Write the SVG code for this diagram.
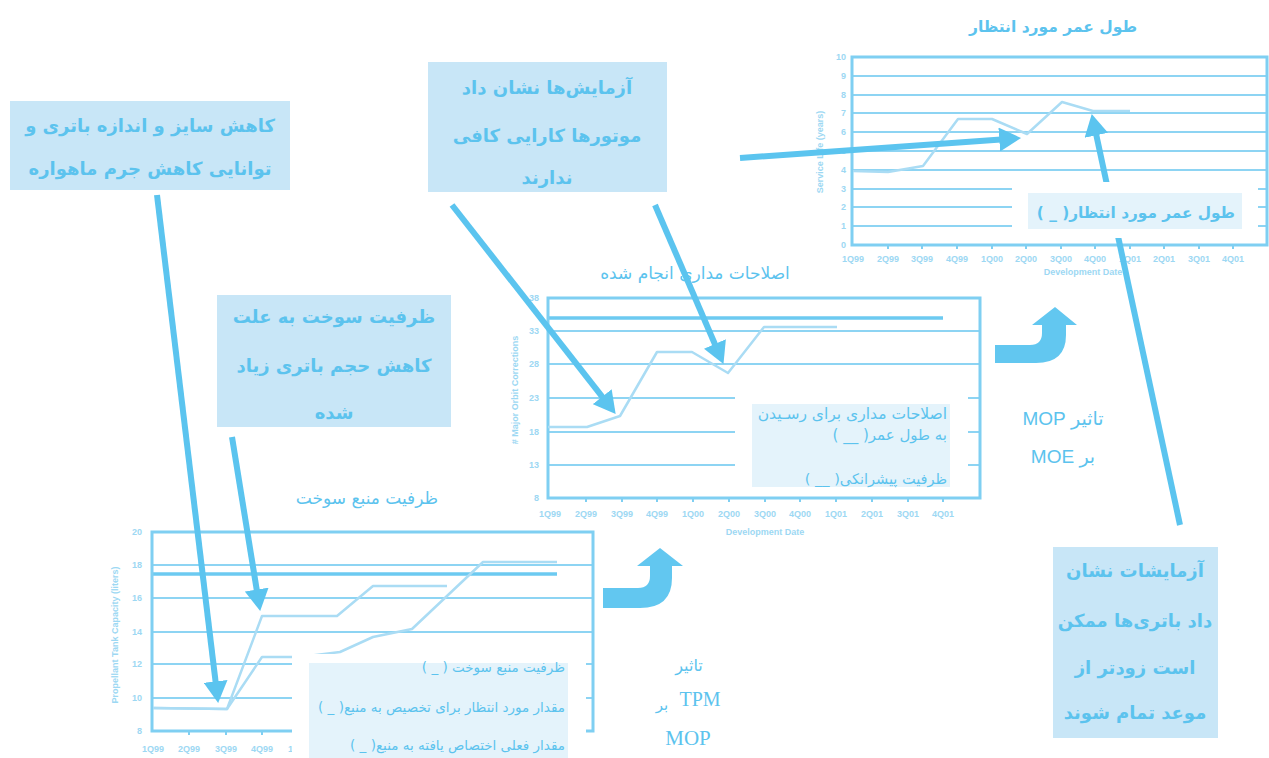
<svg xmlns="http://www.w3.org/2000/svg" width="1269" height="758" viewBox="0 0 1269 758">
<defs>
<style>
.frame{fill:none;stroke:#7fcff2;stroke-width:3}
.grid{stroke:#8dd4f3;stroke-width:2;fill:none}
.target{stroke:#6ccaf1;stroke-width:3.5;fill:none}
.data{stroke:#aadcf4;stroke-width:2.5;fill:none;stroke-linejoin:round}
.tick{stroke:#7fcff2;stroke-width:2}
.ax{font-family:"Liberation Sans",Arial,sans-serif;font-size:9px;font-weight:bold;fill:#9dd8f3}
.axt{font-family:"Liberation Sans",Arial,sans-serif;font-size:9px;font-weight:bold;fill:#9dd8f3;text-anchor:middle}
.cover{fill:#ffffff}
.lbox{fill:#e4f3fb}
.tbox{fill:#c8e6f7}
.tb{font-family:"DejaVu Sans","Noto Sans",sans-serif;font-size:18px;font-weight:bold;fill:#5cc3ee;text-anchor:middle}
.title{font-family:"DejaVu Sans","Noto Sans",sans-serif;fill:#5cc3ee;text-anchor:middle}
.lt{font-family:"DejaVu Sans","Noto Sans",sans-serif;fill:#5cc3ee}
.arr{stroke:#5bc4ef;stroke-width:6;fill:none;marker-end:url(#head)}
.block{fill:#62c7f0}
.serif{font-family:"Liberation Serif","DejaVu Sans",serif;fill:#5cc3ee;text-anchor:middle}
.sans{font-family:"Liberation Sans","DejaVu Sans",sans-serif;fill:#5cc3ee;text-anchor:middle}
</style>
<marker id="head" markerUnits="userSpaceOnUse" viewBox="0 0 20 22" refX="8" refY="11" markerWidth="22" markerHeight="24" orient="auto">
<path d="M0,0 L20,11 L0,22 Z" fill="#5bc4ef"/>
</marker>
</defs>

<!-- Chart: expected service life (top right) -->
<g id="chart-service-life">
<text class="title" x="1053" y="32" font-size="15.5" font-weight="bold" direction="rtl">طول عمر مورد انتظار</text>
<g class="grid">
<line x1="852" y1="76" x2="1267" y2="76"/>
<line x1="852" y1="95" x2="1267" y2="95"/>
<line x1="852" y1="113" x2="1267" y2="113"/>
<line x1="852" y1="132" x2="1267" y2="132"/>
<line x1="852" y1="151" x2="1267" y2="151"/>
<line x1="852" y1="170" x2="1267" y2="170"/>
<line x1="852" y1="189" x2="1267" y2="189"/>
<line x1="852" y1="207" x2="1267" y2="207"/>
<line x1="852" y1="226" x2="1267" y2="226"/>
</g>
<rect class="frame" x="852" y="57" width="415" height="188"/>
<polyline class="data" points="853,171 888,172 923,166 958,119 992,119 1027,134 1062,102 1093,111 1130,111"/>
<g class="ax" text-anchor="end">
<text x="846" y="60">10</text><text x="846" y="79">9</text><text x="846" y="98">8</text><text x="846" y="116">7</text><text x="846" y="135">6</text><text x="846" y="154">5</text><text x="846" y="173">4</text><text x="846" y="192">3</text><text x="846" y="210">2</text><text x="846" y="229">1</text><text x="846" y="248">0</text>
</g>
<g class="tick">
<line x1="888" y1="245" x2="888" y2="249"/><line x1="922" y1="245" x2="922" y2="249"/><line x1="957" y1="245" x2="957" y2="249"/><line x1="992" y1="245" x2="992" y2="249"/><line x1="1026" y1="245" x2="1026" y2="249"/><line x1="1061" y1="245" x2="1061" y2="249"/><line x1="1095" y1="245" x2="1095" y2="249"/><line x1="1130" y1="245" x2="1130" y2="249"/><line x1="1164" y1="245" x2="1164" y2="249"/><line x1="1199" y1="245" x2="1199" y2="249"/><line x1="1233" y1="245" x2="1233" y2="249"/>
</g>
<g class="axt">
<text x="853" y="262">1Q99</text><text x="888" y="262">2Q99</text><text x="922" y="262">3Q99</text><text x="957" y="262">4Q99</text><text x="992" y="262">1Q00</text><text x="1026" y="262">2Q00</text><text x="1061" y="262">3Q00</text><text x="1095" y="262">4Q00</text><text x="1130" y="262">1Q01</text><text x="1164" y="262">2Q01</text><text x="1199" y="262">3Q01</text><text x="1233" y="262">4Q01</text>
<text x="1083" y="275">Development Date</text>
<text transform="translate(823,152) rotate(-90)">Service Life (years)</text>
</g>
</g>

<!-- Chart: orbit corrections (middle) -->
<g id="chart-orbit-corrections">
<text class="title" x="695" y="279" font-size="17" direction="rtl">اصلاحات مداری انجام شده</text>
<g class="grid">
<line x1="548" y1="331" x2="980" y2="331"/>
<line x1="548" y1="364" x2="980" y2="364"/>
<line x1="548" y1="398" x2="980" y2="398"/>
<line x1="548" y1="432" x2="980" y2="432"/>
<line x1="548" y1="465" x2="980" y2="465"/>
</g>
<line class="target" x1="548" y1="318" x2="943" y2="318"/>
<rect class="frame" x="548" y="298" width="432" height="200"/>
<polyline class="data" points="548,427 587,427 620,416 657,352 692,352 728,373 764,327 837,327"/>
<g class="ax" text-anchor="end">
<text x="539" y="301">38</text><text x="539" y="334">33</text><text x="539" y="367">28</text><text x="539" y="401">23</text><text x="539" y="435">18</text><text x="539" y="468">13</text><text x="539" y="501">8</text>
</g>
<g class="tick">
<line x1="586" y1="498" x2="586" y2="502"/><line x1="622" y1="498" x2="622" y2="502"/><line x1="657" y1="498" x2="657" y2="502"/><line x1="693" y1="498" x2="693" y2="502"/><line x1="729" y1="498" x2="729" y2="502"/><line x1="765" y1="498" x2="765" y2="502"/><line x1="800" y1="498" x2="800" y2="502"/><line x1="836" y1="498" x2="836" y2="502"/><line x1="872" y1="498" x2="872" y2="502"/><line x1="908" y1="498" x2="908" y2="502"/><line x1="943" y1="498" x2="943" y2="502"/>
</g>
<g class="axt">
<text x="550" y="517">1Q99</text><text x="586" y="517">2Q99</text><text x="622" y="517">3Q99</text><text x="657" y="517">4Q99</text><text x="693" y="517">1Q00</text><text x="729" y="517">2Q00</text><text x="765" y="517">3Q00</text><text x="800" y="517">4Q00</text><text x="836" y="517">1Q01</text><text x="872" y="517">2Q01</text><text x="908" y="517">3Q01</text><text x="943" y="517">4Q01</text>
<text x="765" y="535">Development Date</text>
<text transform="translate(518,390) rotate(-90)"># Major Orbit Corrections</text>
</g>
</g>

<!-- Chart: fuel capacity (bottom left) -->
<g id="chart-fuel-capacity">
<text class="title" x="367" y="504" font-size="17" direction="rtl">ظرفیت منبع سوخت</text>
<g class="grid">
<line x1="152" y1="565" x2="593" y2="565"/>
<line x1="152" y1="598" x2="593" y2="598"/>
<line x1="152" y1="632" x2="593" y2="632"/>
<line x1="152" y1="664" x2="593" y2="664"/>
<line x1="152" y1="698" x2="593" y2="698"/>
</g>
<line class="target" x1="152" y1="574" x2="557" y2="574"/>
<rect class="frame" x="152" y="532" width="441" height="199"/>
<polyline class="data" points="153,708 227,709 262,616 337,616 373,586 447,586"/>
<polyline class="data" stroke="#8fd3f3" points="153,708 227,709 262,657 300,657 340,652 373,637 412,629 483,562 557,562"/>
<g class="ax" text-anchor="end">
<text x="142" y="535">20</text><text x="142" y="568">18</text><text x="142" y="601">16</text><text x="142" y="635">14</text><text x="142" y="667">12</text><text x="142" y="701">10</text><text x="142" y="734">8</text>
</g>
<g class="tick">
<line x1="189" y1="731" x2="189" y2="735"/><line x1="226" y1="731" x2="226" y2="735"/><line x1="262" y1="731" x2="262" y2="735"/>
</g>
<g class="axt">
<text x="153" y="752">1Q99</text><text x="189" y="752">2Q99</text><text x="226" y="752">3Q99</text><text x="262" y="752">4Q99</text><text x="299" y="752">1Q00</text>
<text transform="translate(118,635) rotate(-90)">Propellant Tank Capacity (liters)</text>
</g>
</g>

<!-- Connectors -->
<g id="connectors">
<line class="arr" x1="157" y1="195" x2="216.6" y2="690.1"/>
<line class="arr" x1="232" y1="437" x2="258.1" y2="598.2"/>
<line class="arr" x1="452" y1="205" x2="607.6" y2="403.6"/>
<line class="arr" x1="655" y1="205" x2="718.3" y2="352"/>
<line class="arr" x1="740" y1="158" x2="1008" y2="138.9"/>
<line class="arr" x1="1180" y1="525" x2="1094.5" y2="126.7"/>
<path class="block" d="M603,588 H638 Q650,588 650,576 V566 H637 L660,548 L683,566 H672 V578 Q672,608 640,608 H603 Z"/>
<path class="block" d="M995,345 H1030 Q1042,345 1042,333 V325 H1032 L1055,307 L1077,325 H1066 V335 Q1066,363 1036,363 H995 Z"/>
</g>

<!-- Legend boxes -->
<g id="legend-service-life">
<rect class="cover" x="1012" y="182" width="246" height="56"/>
<rect class="lbox" x="1028" y="193" width="214" height="36"/>
<text class="lt" x="1235" y="218" font-size="15.3" font-weight="bold" direction="rtl" text-anchor="start">طول عمر مورد انتظار( _ )</text>
</g>
<g id="legend-orbit">
<rect class="cover" x="735" y="385" width="233" height="108"/>
<rect class="lbox" x="752" y="404" width="198" height="83"/>
<g class="lt" direction="rtl" text-anchor="start">
<text x="947" y="419" font-size="15.5">اصلاحات مداری برای رسـیدن</text>
<text x="947" y="440" font-size="15">به طول عمر( __ )</text>
<text x="947" y="484" font-size="14.5">ظرفیت پیشرانکی( __ )</text>
</g>
</g>
<g id="legend-fuel">
<rect class="cover" x="292" y="654" width="294" height="104"/>
<rect class="lbox" x="309" y="663" width="259" height="95"/>
<g class="lt" font-size="13.5" direction="rtl" text-anchor="start">
<text x="565" y="672">ظرفیت منبع سوخت ( _ )</text>
<text x="565" y="712">مقدار مورد انتظار برای تخصیص به منبع( _ )</text>
<text x="565" y="750">مقدار فعلی اختصاص یافته به منبع( _ )</text>
</g>
</g>

<!-- Annotation boxes -->
<g id="note-battery-size">
<rect class="tbox" x="10" y="101" width="280" height="89"/>
<text class="tb" x="150" y="132" direction="rtl">کاهش سایز و اندازه باتری و</text>
<text class="tb" x="150" y="175" direction="rtl">توانایی کاهش جرم ماهواره</text>
</g>
<g id="note-motors">
<rect class="tbox" x="428" y="62" width="239" height="130"/>
<text class="tb" x="547" y="94" direction="rtl">آزمایش‌ها نشان داد</text>
<text class="tb" x="547" y="142" direction="rtl">موتورها کارایی کافی</text>
<text class="tb" x="547" y="184" direction="rtl">ندارند</text>
</g>
<g id="note-fuel">
<rect class="tbox" x="217" y="295" width="234" height="132"/>
<text class="tb" x="334" y="323" direction="rtl">ظرفیت سوخت به علت</text>
<text class="tb" x="334" y="372" direction="rtl">کاهش حجم باتری زیاد</text>
<text class="tb" x="334" y="419" direction="rtl">شده</text>
</g>
<g id="note-batteries">
<rect class="tbox" x="1053" y="547" width="165" height="191"/>
<text class="tb" x="1135" y="577" direction="rtl">آزمایشات نشان</text>
<text class="tb" x="1135" y="627" direction="rtl">داد باتری‌ها ممکن</text>
<text class="tb" x="1135" y="674" direction="rtl">است زودتر از</text>
<text class="tb" x="1135" y="719" direction="rtl">موعد تمام شوند</text>
</g>

<!-- Impact labels -->
<g id="label-tpm-mop">
<text class="serif" x="689" y="671" font-size="16">تاثیر</text>
<text class="serif" x="700" y="706" font-size="20">TPM</text>
<text class="serif" x="662" y="710" font-size="15">بر</text>
<text class="serif" x="688" y="745" font-size="21">MOP</text>
</g>
<g id="label-mop-moe">
<text class="sans" x="1063" y="425" font-size="19" direction="rtl">تاثیر MOP</text>
<text class="sans" x="1063" y="463" font-size="19" direction="rtl">بر MOE</text>
</g>
</svg>
